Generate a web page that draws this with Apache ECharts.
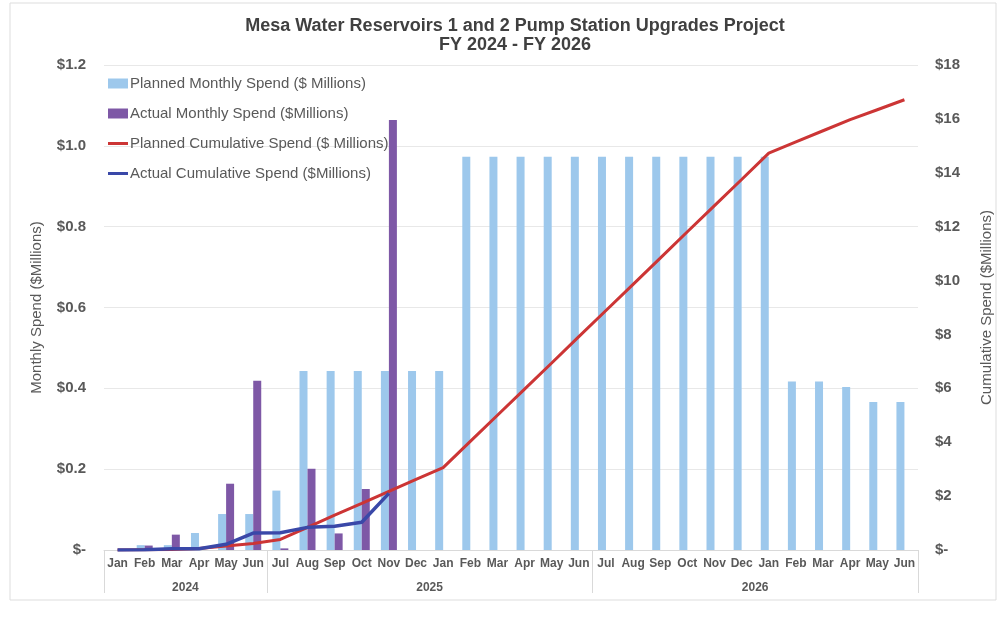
<!DOCTYPE html>
<html>
<head>
<meta charset="utf-8">
<script src="https://cdn.jsdelivr.net/npm/echarts@6/dist/echarts.min.js"></script>
<style>
html,body{margin:0;padding:0;background:#fff;}
#main{width:1000px;height:620px;}
</style>
</head>
<body>
<div id="main"></div>
<script>
var months = ['Jan','Feb','Mar','Apr','May','Jun','Jul','Aug','Sep','Oct','Nov','Dec',
              'Jan','Feb','Mar','Apr','May','Jun','Jul','Aug','Sep','Oct','Nov','Dec',
              'Jan','Feb','Mar','Apr','May','Jun'];
// year groups: [start index, end index, label]
var yearGroups = [[0, 6, '2024'], [6, 18, '2025'], [18, 30, '2026']];

var plannedMonthly = [0, 0.012, 0.012, 0.042, 0.089, 0.089, 0.147, 0.443, 0.443, 0.443, 0.443, 0.443,
                      0.443, 0.973, 0.973, 0.973, 0.973, 0.973, 0.973, 0.973, 0.973, 0.973, 0.973, 0.973,
                      0.973, 0.417, 0.417, 0.403, 0.366, 0.366];
var actualMonthly = [0, 0.011, 0.038, 0, 0.164, 0.419, 0.004, 0.201, 0.041, 0.151, 1.064];
var plannedCumulative = [0, 0.01, 0.02, 0.06, 0.15, 0.24, 0.39, 0.84, 1.29, 1.73, 2.18, 2.62,
                         3.06, 4.03, 5.00, 5.97, 6.94, 7.92, 8.89, 9.86, 10.83, 11.81, 12.78, 13.75,
                         14.73, 15.15, 15.56, 15.97, 16.34, 16.71];
var actualCumulative = [0, 0.01, 0.05, 0.05, 0.21, 0.63, 0.64, 0.84, 0.88, 1.03, 2.10];

var gray = '#595959';
var lineIcon = 'path://M0,0 L20,0 L20,3 L0,3 Z';
var chart = echarts.init(document.getElementById('main'));

var yearLabelAt = {};
var yearTicks = [];
yearGroups.forEach(function (g) {
    yearLabelAt[(g[0] + g[1]) / 2] = g[2];
    yearTicks.push(g[0]);
});
yearTicks.push(yearGroups[yearGroups.length - 1][1]);

var option = {
    backgroundColor: '#fff',
    textStyle: {fontFamily: 'Liberation Sans, Arial, sans-serif'},
    title: {
        text: 'Mesa Water Reservoirs 1 and 2 Pump Station Upgrades Project\nFY 2024 - FY 2026',
        left: 510,
        textAlign: 'center',
        top: 12,
        textStyle: {fontSize: 18, fontWeight: 'bold', color: '#404040', lineHeight: 19}
    },
    legend: {
        orient: 'vertical',
        left: 108,
        top: 76,
        padding: 0,
        itemWidth: 20,
        itemHeight: 10,
        itemGap: 15,
        textStyle: {fontSize: 15, color: gray, padding: [0, 0, 0, -3]},
        data: [
            {name: 'Planned Monthly Spend ($ Millions)', icon: 'rect'},
            {name: 'Actual Monthly Spend ($Millions)', icon: 'rect'},
            {name: 'Planned Cumulative Spend ($ Millions)', icon: lineIcon},
            {name: 'Actual Cumulative Spend ($Millions)', icon: lineIcon}
        ]
    },
    grid: {left: 104, right: 82, top: 65, bottom: 70, outerBoundsMode: 'none'},
    xAxis: [{
        type: 'category',
        data: months,
        axisLine: {lineStyle: {color: '#d9d9d9'}},
        axisTick: {show: false},
        axisLabel: {color: gray, fontSize: 12, fontWeight: 'bold', margin: 8, interval: 0}
    }, {
        type: 'value',
        min: 0,
        max: months.length,
        position: 'bottom',
        axisLine: {show: false},
        splitLine: {show: false},
        axisTick: {show: true, customValues: yearTicks, length: 43, lineStyle: {color: '#d9d9d9'}},
        axisLabel: {
            customValues: Object.keys(yearLabelAt).map(Number),
            formatter: function (v) { return yearLabelAt[v] || ''; },
            color: gray, fontSize: 12, fontWeight: 'bold', margin: 32
        }
    }],
    yAxis: [{
        type: 'value',
        min: 0, max: 1.2, interval: 0.2,
        name: 'Monthly Spend ($Millions)',
        nameLocation: 'middle',
        nameGap: 60,
        nameTextStyle: {fontSize: 15, color: gray},
        axisLine: {show: false},
        axisTick: {show: false},
        splitLine: {lineStyle: {color: '#e8e8e8'}},
        axisLabel: {
            color: gray, fontSize: 15, fontWeight: 'bold', margin: 18,
            formatter: function (v) { return v === 0 ? '$-' : '$' + v.toFixed(1); }
        }
    }, {
        type: 'value',
        min: 0, max: 18, interval: 2,
        name: 'Cumulative Spend ($Millions)',
        nameLocation: 'middle',
        nameGap: 61,
        nameRotate: 90,
        nameTextStyle: {fontSize: 15, color: gray},
        axisLine: {show: false},
        axisTick: {show: false},
        splitLine: {show: false},
        axisLabel: {
            color: gray, fontSize: 15, fontWeight: 'bold', margin: 17,
            formatter: function (v) { return v === 0 ? '$-' : '$' + v; }
        }
    }],
    series: [{
        name: 'Planned Monthly Spend ($ Millions)',
        type: 'bar',
        data: plannedMonthly,
        barWidth: 8,
        barGap: '0%',
        itemStyle: {color: '#9dc8ec'}
    }, {
        name: 'Actual Monthly Spend ($Millions)',
        type: 'bar',
        data: actualMonthly,
        barWidth: 8,
        itemStyle: {color: '#7e58a6'}
    }, {
        name: 'Planned Cumulative Spend ($ Millions)',
        type: 'line',
        yAxisIndex: 1,
        data: plannedCumulative,
        symbol: 'none',
        lineStyle: {color: '#cc3535', width: 3},
        itemStyle: {color: '#cc3535'}
    }, {
        name: 'Actual Cumulative Spend ($Millions)',
        type: 'line',
        yAxisIndex: 1,
        data: actualCumulative,
        symbol: 'none',
        lineStyle: {color: '#3a48a8', width: 3.5},
        itemStyle: {color: '#3a48a8'}
    }],
    graphic: [{
        type: 'rect',
        shape: {x: 10, y: 3, width: 986, height: 597},
        style: {fill: 'none', stroke: '#dddddd', lineWidth: 1},
        silent: true
    }]
};
chart.setOption(option);
</script>
</body>
</html>
